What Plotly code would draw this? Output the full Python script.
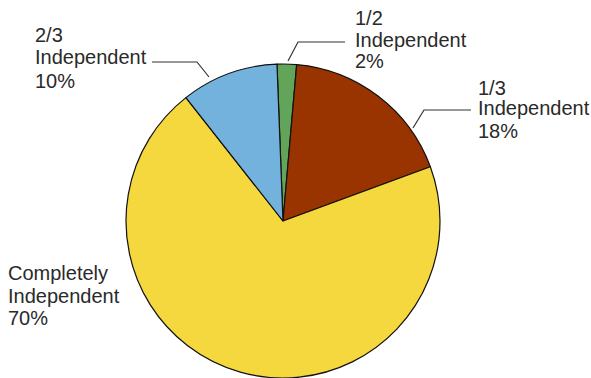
import plotly.graph_objects as go

labels = ["1/2 Independent", "1/3 Independent", "Completely Independent", "2/3 Independent"]
values = [2, 18, 70, 10]
colors = ["#62a55a", "#993300", "#f5d73e", "#74b2de"]

W, H = 591, 378
FONT = "Liberation Sans, Arial, sans-serif"
TXT = "#2a2a2a"

def px(x):
    return x / W

def py(y):
    return 1 - y / H

fig = go.Figure(go.Pie(
    labels=labels, values=values, sort=False, direction="clockwise",
    rotation=-2.2,
    marker=dict(colors=colors, line=dict(color="#111111", width=1.2)),
    textinfo="none", hoverinfo="label+percent", showlegend=False,
    domain=dict(x=[px(283 - 158), px(283 + 158)], y=[0, py(64)]),
))

# label text blocks: (lines, x-left px, [y centres px])
label_blocks = [
    (["1/2", "Independent", "2%"], 353, [18, 40, 61]),
    (["2/3", "Independent", "10%"], 33, [35, 57, 81]),
    (["1/3", "Independent", "18%"], 476, [88, 108, 131]),
    (["Completely", "Independent", "70%"], 6, [273, 296, 318]),
]
annotations = []
for lines, x, ys in label_blocks:
    for t, y in zip(lines, ys):
        annotations.append(dict(
            text=t, x=px(x), y=py(y), xref="paper", yref="paper",
            xanchor="left", yanchor="middle", showarrow=False,
            font=dict(family=FONT, size=20, color=TXT),
        ))

# leader lines (pixel path points)
leaders = [
    [(288, 61), (298, 42), (345, 42)],
    [(209, 77), (197, 62), (152, 62)],
    [(413, 128), (424, 110), (471, 110)],
]
shapes = []
for pts in leaders:
    path = "M " + " L ".join(f"{px(a)},{py(b)}" for a, b in pts)
    shapes.append(dict(type="path", path=path, xref="paper", yref="paper",
                       line=dict(color="#333333", width=1.2)))

fig.update_layout(
    width=W, height=H, margin=dict(l=0, r=0, t=0, b=0),
    paper_bgcolor="white", plot_bgcolor="white",
    annotations=annotations, shapes=shapes,
)

fig.write_html("out.html")
